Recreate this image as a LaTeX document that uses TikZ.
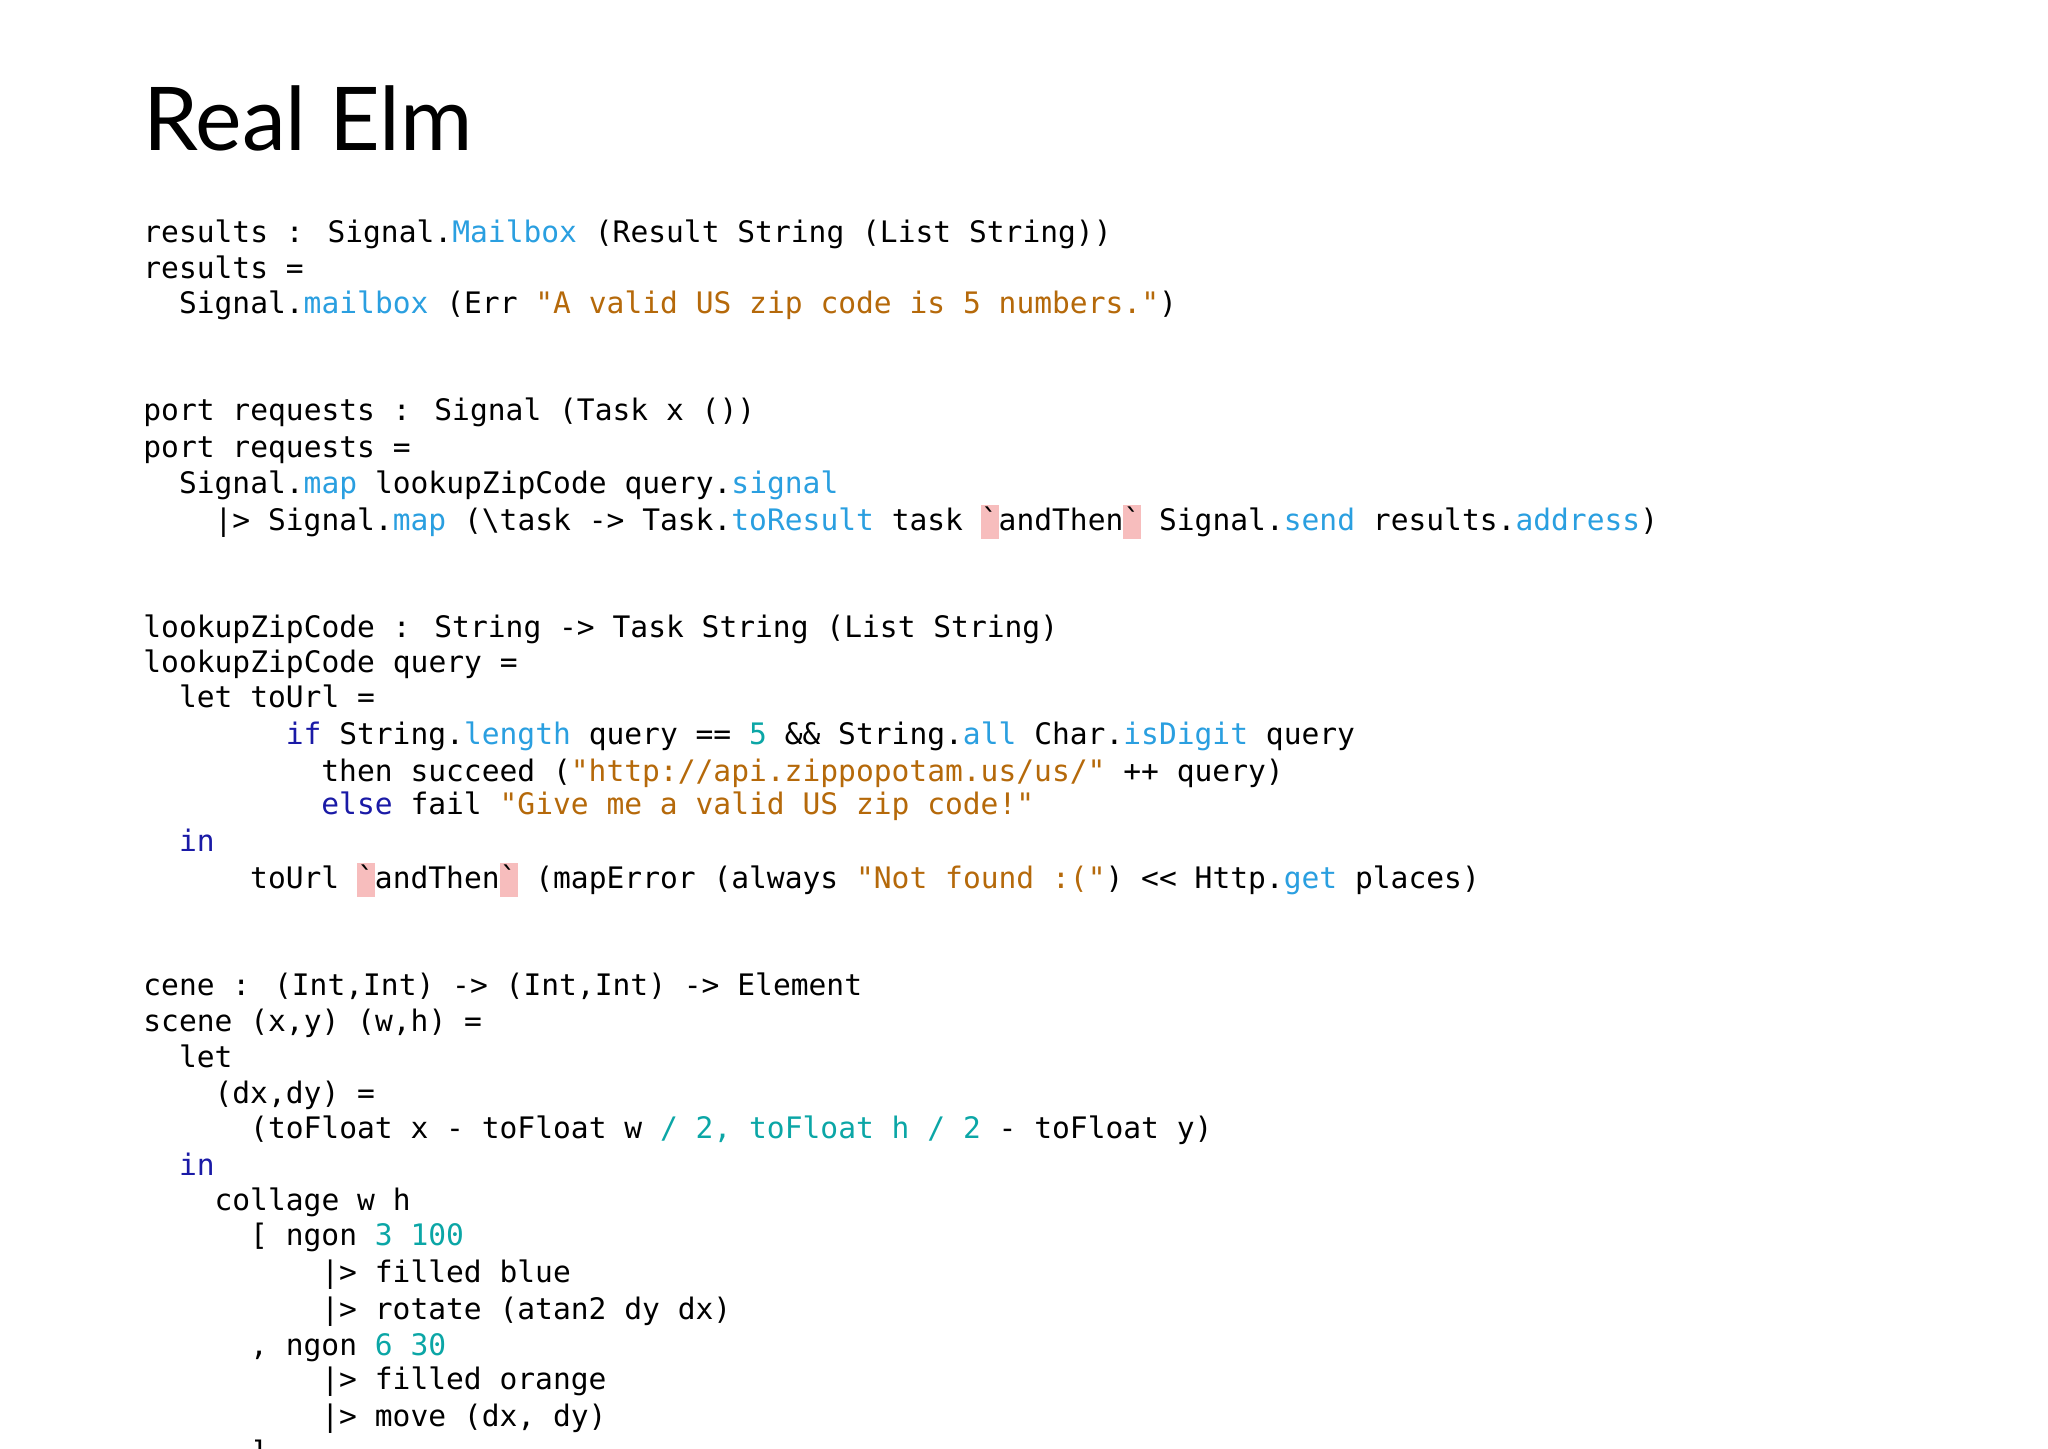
\documentclass[tikz,border=0pt]{standalone}
\usepackage{fontspec}
\usepackage{xcolor}
\newfontfamily\codefont{DejaVu Sans Mono}
\newfontfamily\titlefont{Lato}
\definecolor{cfn}{HTML}{2A9FE0}
\definecolor{cstr}{HTML}{B5690A}
\definecolor{ckw}{HTML}{1A1AA6}
\definecolor{cnum}{HTML}{0BA6A6}
\definecolor{cpink}{HTML}{F7BDBD}
\newcommand{\cb}[1]{\textcolor{cfn}{#1}}
\newcommand{\cs}[1]{\textcolor{cstr}{#1}}
\newcommand{\ck}[1]{\textcolor{ckw}{#1}}
\newcommand{\cn}[1]{\textcolor{cnum}{#1}}
\newcommand{\btk}{{\setlength{\fboxsep}{0pt}\colorbox{cpink}{\rule[-0.3em]{0pt}{1.15em}`}}}
\newcommand{\myCodeLn}[4]{\node[cl] (#1) at ({143+#2*17.8},{#3*1.306}) {#4};}
\begin{document}
\begin{tikzpicture}[x=0.5pt,y=-0.5pt,
  cl/.style={anchor=base west,inner sep=0pt,font=\codefont\fontsize{14.8}{18}\selectfont}]
\useasboundingbox (0,0) rectangle (2048,1448);
\clip (0,0) rectangle (2048,1448);
\node[anchor=base west,inner sep=0pt,font=\titlefont\fontsize{44}{50}\selectfont] (title) at (143,150) {Real Elm};
\myCodeLn{a1}{0}{186}{results : Signal.\cb{Mailbox} (Result String (List String))}
\myCodeLn{a2}{0}{213}{results =}
\myCodeLn{a3}{2}{240}{Signal.\cb{mailbox} (Err \cs{"A valid US zip code is 5 numbers."})}
\myCodeLn{b1}{0}{322}{port requests : Signal (Task x ())}
\myCodeLn{b2}{0}{350}{port requests =}
\myCodeLn{b3}{2}{378}{Signal.\cb{map} lookupZipCode query.\cb{signal}}
\myCodeLn{b4}{4}{406}{|> Signal.\cb{map} (\textbackslash task -> Task.\cb{toResult} task \btk andThen\btk{} Signal.\cb{send} results.\cb{address})}
\myCodeLn{c1}{0}{488}{lookupZipCode : String -> Task String (List String)}
\myCodeLn{c2}{0}{515}{lookupZipCode query =}
\myCodeLn{c3}{2}{542}{let toUrl =}
\myCodeLn{c4}{8}{570}{\ck{if} String.\cb{length} query == \cn{5} \&\& String.\cb{all} Char.\cb{isDigit} query}
\myCodeLn{c5}{10}{598}{then succeed (\cs{"http://api.zippopotam.us/us/"} ++ query)}
\myCodeLn{c6}{10}{624}{\ck{else} fail \cs{"Give me a valid US zip code!"}}
\myCodeLn{c7}{2}{652}{\ck{in}}
\myCodeLn{c8}{6}{680}{toUrl \btk andThen\btk{} (mapError (always \cs{"Not found :("}) << Http.\cb{get} places)}
\myCodeLn{d1}{0}{762}{cene : (Int,Int) -> (Int,Int) -> Element}
\myCodeLn{d2}{0}{790}{scene (x,y) (w,h) =}
\myCodeLn{d3}{2}{817}{let}
\myCodeLn{d4}{4}{845}{(dx,dy) =}
\myCodeLn{d5}{6}{872}{(toFloat x - toFloat w \cn{/ 2, toFloat h / 2} - toFloat y)}
\myCodeLn{d6}{2}{900}{\ck{in}}
\myCodeLn{d7}{4}{927}{collage w h}
\myCodeLn{d8}{6}{954}{[ ngon \cn{3 100}}
\myCodeLn{d9}{10}{982}{|> filled blue}
\myCodeLn{d10}{10}{1010}{|> rotate (atan2 dy dx)}
\myCodeLn{d11}{6}{1038}{, ngon \cn{6 30}}
\myCodeLn{d12}{10}{1064}{|> filled orange}
\myCodeLn{d13}{10}{1092}{|> move (dx, dy)}
\myCodeLn{d14}{6}{1120}{]}
\end{tikzpicture}
\end{document}
